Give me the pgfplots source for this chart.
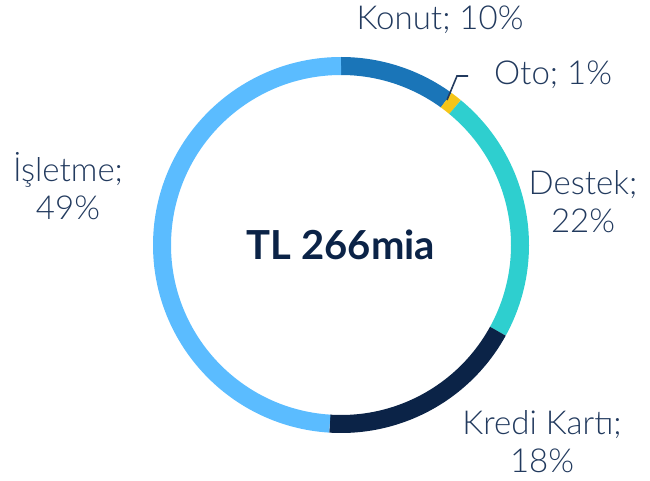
\documentclass[border=0pt]{standalone}
\usepackage{fontspec}
\setmainfont{Lato}[UprightFont={* Light},BoldFont={* Bold}]
\usepackage{pgfplots}
\usepackage{pgfplotstable}
\pgfplotsset{compat=1.18}
\definecolor{cKonut}{HTML}{1A75B8}
\definecolor{cOto}{HTML}{F5C518}
\definecolor{cDestek}{HTML}{2ECFCF}
\definecolor{cKredi}{HTML}{0B2347}
\definecolor{cIsl}{HTML}{5BBCFF}
\definecolor{ctext}{HTML}{223A5E}
\tikzset{lbl/.style={font=\fontsize{33}{38}\selectfont, text=ctext, align=center, inner sep=0pt}}
\pgfplotstableread{
label value
Konut 10
Oto 1
Destek 22
Kredi 18
Isletme 49
}\donutdata
\pgfplotstablegetelem{0}{value}\of\donutdata \let\vA\pgfplotsretval
\pgfplotstablegetelem{1}{value}\of\donutdata \let\vB\pgfplotsretval
\pgfplotstablegetelem{2}{value}\of\donutdata \let\vC\pgfplotsretval
\pgfplotstablegetelem{3}{value}\of\donutdata \let\vD\pgfplotsretval
\pgfplotstablegetelem{4}{value}\of\donutdata \let\vE\pgfplotsretval
\pgfmathsetmacro\aO{90}
\pgfmathsetmacro\aA{\aO-3.6*\vA}
\pgfmathsetmacro\aB{\aA-3.6*\vB}
\pgfmathsetmacro\aC{\aB-3.6*\vC}
\pgfmathsetmacro\aD{\aC-3.6*\vD}
\pgfmathsetmacro\aE{\aD-3.6*\vE}
\def\cx{341}\def\cy{235}
\begin{document}
\begin{tikzpicture}
\begin{axis}[
  scale only axis, width=650pt, height=480pt,
  xmin=0, xmax=650, ymin=0, ymax=480,
  hide axis, clip=false,
]
\path (axis cs:0,0) rectangle (axis cs:650,480);
\draw[cKonut, line width=18pt] (axis cs:\cx,\cy) ++(\aO:179pt) arc[start angle=\aO, end angle=\aA, radius=179pt];
\draw[cOto, line width=18pt] (axis cs:\cx,\cy) ++(\aA:179pt) arc[start angle=\aA, end angle=\aB, radius=179pt];
\draw[cDestek, line width=18pt] (axis cs:\cx,\cy) ++(\aB:179pt) arc[start angle=\aB, end angle=\aC, radius=179pt];
\draw[cKredi, line width=18pt] (axis cs:\cx,\cy) ++(\aC:179pt) arc[start angle=\aC, end angle=\aD, radius=179pt];
\draw[cIsl, line width=18pt] (axis cs:\cx,\cy) ++(\aD:179pt) arc[start angle=\aD, end angle=\aE, radius=179pt];
\addplot[ctext, line width=1.6pt, no marks] coordinates {(447,380) (457,404) (468,404)};
\node[lbl] at (axis cs:440,460) {Konut; 10\%};
\node[lbl, anchor=west] at (axis cs:494,405) {Oto; 1\%};
\node[lbl] at (axis cs:583,278) {Destek;\\22\%};
\node[lbl] at (axis cs:542,38) {Kredi Kartı;\\18\%};
\node[lbl] at (axis cs:68,294) {İşletme;\\49\%};
\node[font=\fontsize{40}{46}\selectfont\bfseries, text=cKredi] at (axis cs:\cx,\cy) {TL 266mia};
\end{axis}
\end{tikzpicture}
\end{document}
